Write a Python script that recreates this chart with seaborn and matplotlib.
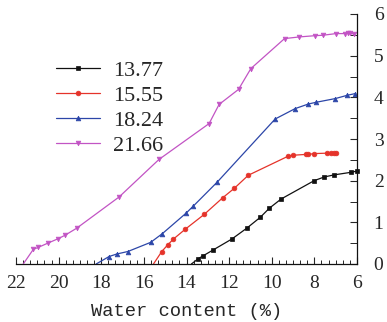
# ================================
# IMPORTS
# ================================
import numpy as np
import pandas as pd
import matplotlib
matplotlib.use("Agg")
import matplotlib.pyplot as plt
import seaborn as sns
from matplotlib.ticker import MultipleLocator


# ================================
# DATA
# ================================
labels = ["13.77", "15.55", "18.24", "21.66"]

w1377 = [13.77, 13.44, 13.21, 12.74, 11.87, 11.17, 10.54, 10.11, 9.56, 8.01, 7.53, 7.06, 6.29, 6.00]
s1377 = [0.00, 0.13, 0.20, 0.34, 0.60, 0.86, 1.12, 1.34, 1.56, 2.00, 2.09, 2.14, 2.20, 2.23]

w1555 = [15.55, 15.16, 14.88, 14.61, 14.07, 13.17, 12.30, 11.75, 11.10, 9.22, 9.01, 8.40, 8.28, 8.01,
         7.40, 7.24, 7.07, 6.98]
s1555 = [0.00, 0.30, 0.46, 0.60, 0.83, 1.19, 1.59, 1.82, 2.13, 2.59, 2.61, 2.63, 2.63, 2.65,
         2.66, 2.66, 2.67, 2.67]

w1824 = [18.24, 17.63, 17.27, 16.75, 15.68, 15.13, 14.02, 13.68, 12.55, 9.84, 8.90, 8.28, 7.93, 7.02,
         6.45, 6.08]
s1824 = [0.00, 0.18, 0.24, 0.30, 0.52, 0.73, 1.22, 1.39, 1.97, 3.48, 3.73, 3.84, 3.88, 3.97,
         4.05, 4.09]

w2166 = [21.66, 21.19, 20.95, 20.51, 20.01, 19.70, 19.15, 17.16, 15.29, 12.94, 12.47, 11.56, 10.98, 9.40,
         8.70, 7.96, 7.60, 6.98, 6.55, 6.43, 6.32, 6.13]
s2166 = [0.00, 0.35, 0.40, 0.50, 0.61, 0.69, 0.86, 1.61, 2.51, 3.37, 3.83, 4.19, 4.69, 5.41,
         5.45, 5.48, 5.49, 5.53, 5.53, 5.55, 5.55, 5.51]

xs = [w1377, w1555, w1824, w2166]
ys = [s1377, s1555, s1824, s2166]

colors = ["#111111", "#e5332a", "#2c46a8", "#c254c4"]
markers = ["s", "o", "^", "v"]


# ================================
# PLOT
# ================================
sns.set_style("ticks")
plt.rcParams["font.family"] = ["Liberation Serif", "DejaVu Serif"]

W, H = 387, 322
fig = plt.figure(figsize=(W / 100, H / 100), dpi=100)
ax = fig.add_axes([16 / W, (H - 264) / H, 341 / W, 250 / H])

for x, y, lab, c, m in zip(xs, ys, labels, colors, markers):
    df = pd.DataFrame({"w": x, "s": y})
    sns.lineplot(data=df, x="w", y="s", ax=ax, sort=False, estimator=None,
                 color=c, marker=m, markersize=3.4, markeredgecolor=c,
                 markeredgewidth=0.5, linewidth=0.9, label=lab,
                 markevery=list(range(1, len(x))), clip_on=False)

ax.set_xlim(22, 6)
ax.set_ylim(0, 6)

# right-hand y axis only, bottom x axis
ax.spines["left"].set_visible(False)
ax.spines["top"].set_visible(False)
ax.spines["right"].set_visible(True)
ax.yaxis.tick_right()
for sp in ["bottom", "right"]:
    ax.spines[sp].set_linewidth(0.9)
    ax.spines[sp].set_color("#111111")

ax.xaxis.set_major_locator(MultipleLocator(2))
ax.xaxis.set_minor_locator(MultipleLocator(1 / 3))
ax.yaxis.set_major_locator(MultipleLocator(1))
ax.yaxis.set_minor_locator(MultipleLocator(0.5))

ax.tick_params(axis="x", which="major", direction="in", length=5, width=0.8, pad=8, labelsize=14)
ax.tick_params(axis="x", which="minor", direction="in", length=3, width=0.7)
ax.tick_params(axis="y", which="major", direction="in", length=5, width=0.8, pad=12, labelsize=14,
               right=True, left=False, labelright=True, labelleft=False)
ax.tick_params(axis="y", which="minor", direction="in", length=5, width=0.7, right=True, left=False)

ax.set_ylabel("")
ax.set_xlabel("Water content (%)", family=["Liberation Mono", "DejaVu Sans Mono"], fontsize=13.5,
              labelpad=8)

ax.legend(loc="upper left", bbox_to_anchor=(56 / W, 1 - 60 / H), bbox_transform=fig.transFigure,
          frameon=False, fontsize=16, handlelength=2.0, handletextpad=0.55,
          labelspacing=0.2, borderpad=0, borderaxespad=0)

fig.savefig("out.png", dpi=100)
